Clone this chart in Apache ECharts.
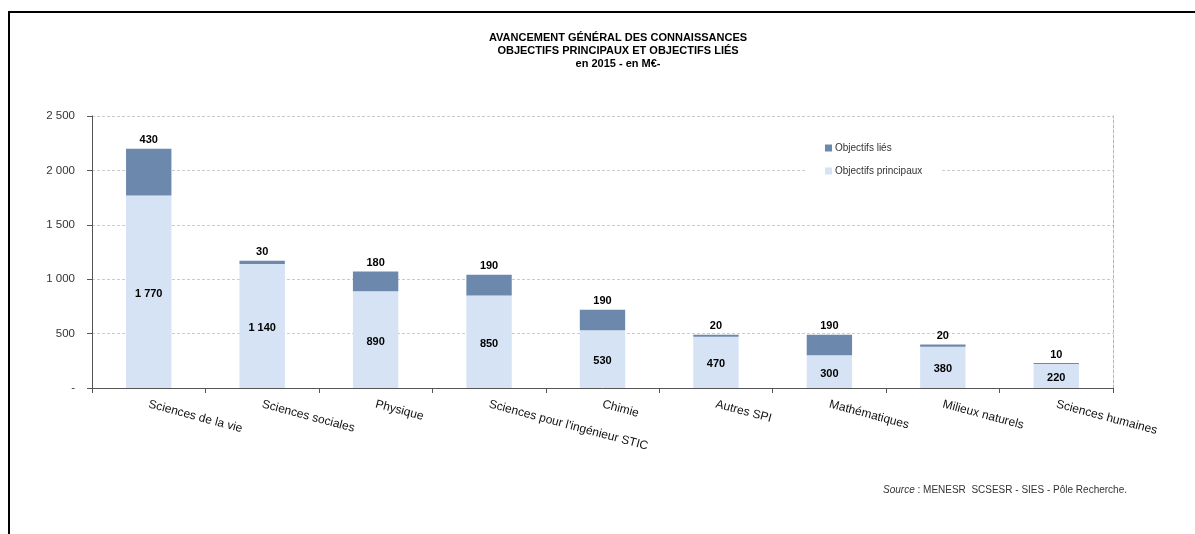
<!DOCTYPE html>
<html>
<head>
<meta charset="utf-8">
<script src="https://cdn.jsdelivr.net/npm/echarts@6/dist/echarts.min.js"></script>
<style>
  html, body { margin: 0; padding: 0; background: #fff; }
  #chart { width: 1195px; height: 534px; }
</style>
</head>
<body>
<div id="chart"></div>
<script>
// disciplines, valeurs en M€ (2015)
const categories = [
  'Sciences de la vie',
  'Sciences sociales',
  'Physique',
  "Sciences pour l'ingénieur STIC",
  'Chimie',
  'Autres SPI',
  'Mathématiques',
  'Milieux naturels',
  'Sciences humaines'
]
const principaux = [1770, 1140, 890, 850, 530, 470, 300, 380, 220]
const lies = [430, 30, 180, 190, 190, 20, 190, 20, 10]
const yTicks = [0, 500, 1000, 1500, 2000, 2500]

const FONT = 'Liberation Sans'

const fmt = (v) => {
  if (v === 0) return '-'
  return String(v).replace(/\B(?=(\d{3})+(?!\d))/g, ' ')
}

const chart = echarts.init(document.getElementById('chart'))

const option = {
  backgroundColor: '#fff',
  animation: false,
  textStyle: { fontFamily: FONT },
  title: [
    {
      text: 'AVANCEMENT GÉNÉRAL DES CONNAISSANCES\nOBJECTIFS PRINCIPAUX ET OBJECTIFS LIÉS\nen 2015 - en M€-',
      left: 613,
      top: 26,
      textAlign: 'center',
      textStyle: {
        fontFamily: FONT,
        fontSize: 11,
        fontWeight: 'bold',
        color: '#000',
        lineHeight: 13
      }
    },
    {
      text: '{i|Source} : MENESR  SCSESR - SIES - Pôle Recherche.',
      right: 63,
      top: 480,
      textStyle: {
        fontFamily: FONT,
        fontSize: 10,
        fontWeight: 'normal',
        color: '#333',
        rich: {
          i: { fontFamily: FONT, fontSize: 10, fontStyle: 'italic', color: '#333' }
        }
      }
    }
  ],
  graphic: [
    {
      type: 'rect',
      shape: { x: 9, y: 12, width: 1220, height: 600 },
      style: { fill: 'none', stroke: '#000', lineWidth: 2 },
      silent: true
    }
  ],
  legend: {
    orient: 'vertical',
    left: 805,
    top: 139,
    padding: [4, 20, 4, 20],
    backgroundColor: '#fff',
    itemWidth: 7,
    itemHeight: 7,
    itemGap: 13,
    icon: 'rect',
    data: ['Objectifs liés', 'Objectifs principaux'],
    textStyle: { fontFamily: FONT, fontSize: 10, color: '#333', padding: [0, 0, 0, -2] }
  },
  grid: {
    left: 92,
    right: 82,
    top: 116,
    bottom: 146
  },
  xAxis: {
    type: 'category',
    data: categories,
    axisLine: { lineStyle: { color: '#555', width: 1 } },
    axisTick: { show: true, length: 5, lineStyle: { color: '#555' } },
    axisLabel: {
      rotate: -15,
      margin: 16,
      interval: 0,
      fontFamily: FONT,
      fontSize: 12,
      color: '#111'
    }
  },
  yAxis: [
    {
      type: 'value',
      min: 0,
      max: 2500,
      interval: 500,
      axisLine: { show: true, lineStyle: { color: '#555' } },
      axisTick: { show: true, length: 5, lineStyle: { color: '#555' } },
      axisLabel: {
        margin: 17,
        fontFamily: FONT,
        fontSize: 11.5,
        color: '#333',
        formatter: (v) => (yTicks.includes(v) ? fmt(v) : '')
      },
      splitLine: {
        show: true,
        lineStyle: { color: '#cccccc', type: [3, 2], width: 1 }
      }
    },
    {
      type: 'value',
      position: 'right',
      min: 0,
      max: 2500,
      interval: 500,
      axisLine: { show: true, lineStyle: { color: '#b5b5b5', type: [3, 2] } },
      axisTick: { show: false },
      axisLabel: { show: false },
      splitLine: { show: false }
    }
  ],
  series: [
    {
      name: 'Objectifs principaux',
      type: 'bar',
      stack: 'total',
      barWidth: '40%',
      data: principaux,
      itemStyle: { color: '#d6e3f4' },
      label: {
        show: true,
        position: 'inside',
        offset: [0, 2],
        fontFamily: FONT,
        fontSize: 11,
        fontWeight: 'bold',
        color: '#000',
        formatter: (p) => fmt(p.value)
      }
    },
    {
      name: 'Objectifs liés',
      type: 'bar',
      stack: 'total',
      barWidth: '40%',
      data: lies,
      itemStyle: { color: '#6c89ad' },
      label: {
        show: true,
        position: 'top',
        distance: 3,
        fontFamily: FONT,
        fontSize: 11,
        fontWeight: 'bold',
        color: '#000',
        formatter: (p) => fmt(p.value)
      }
    }
  ]
}

chart.setOption(option)
</script>
</body>
</html>
